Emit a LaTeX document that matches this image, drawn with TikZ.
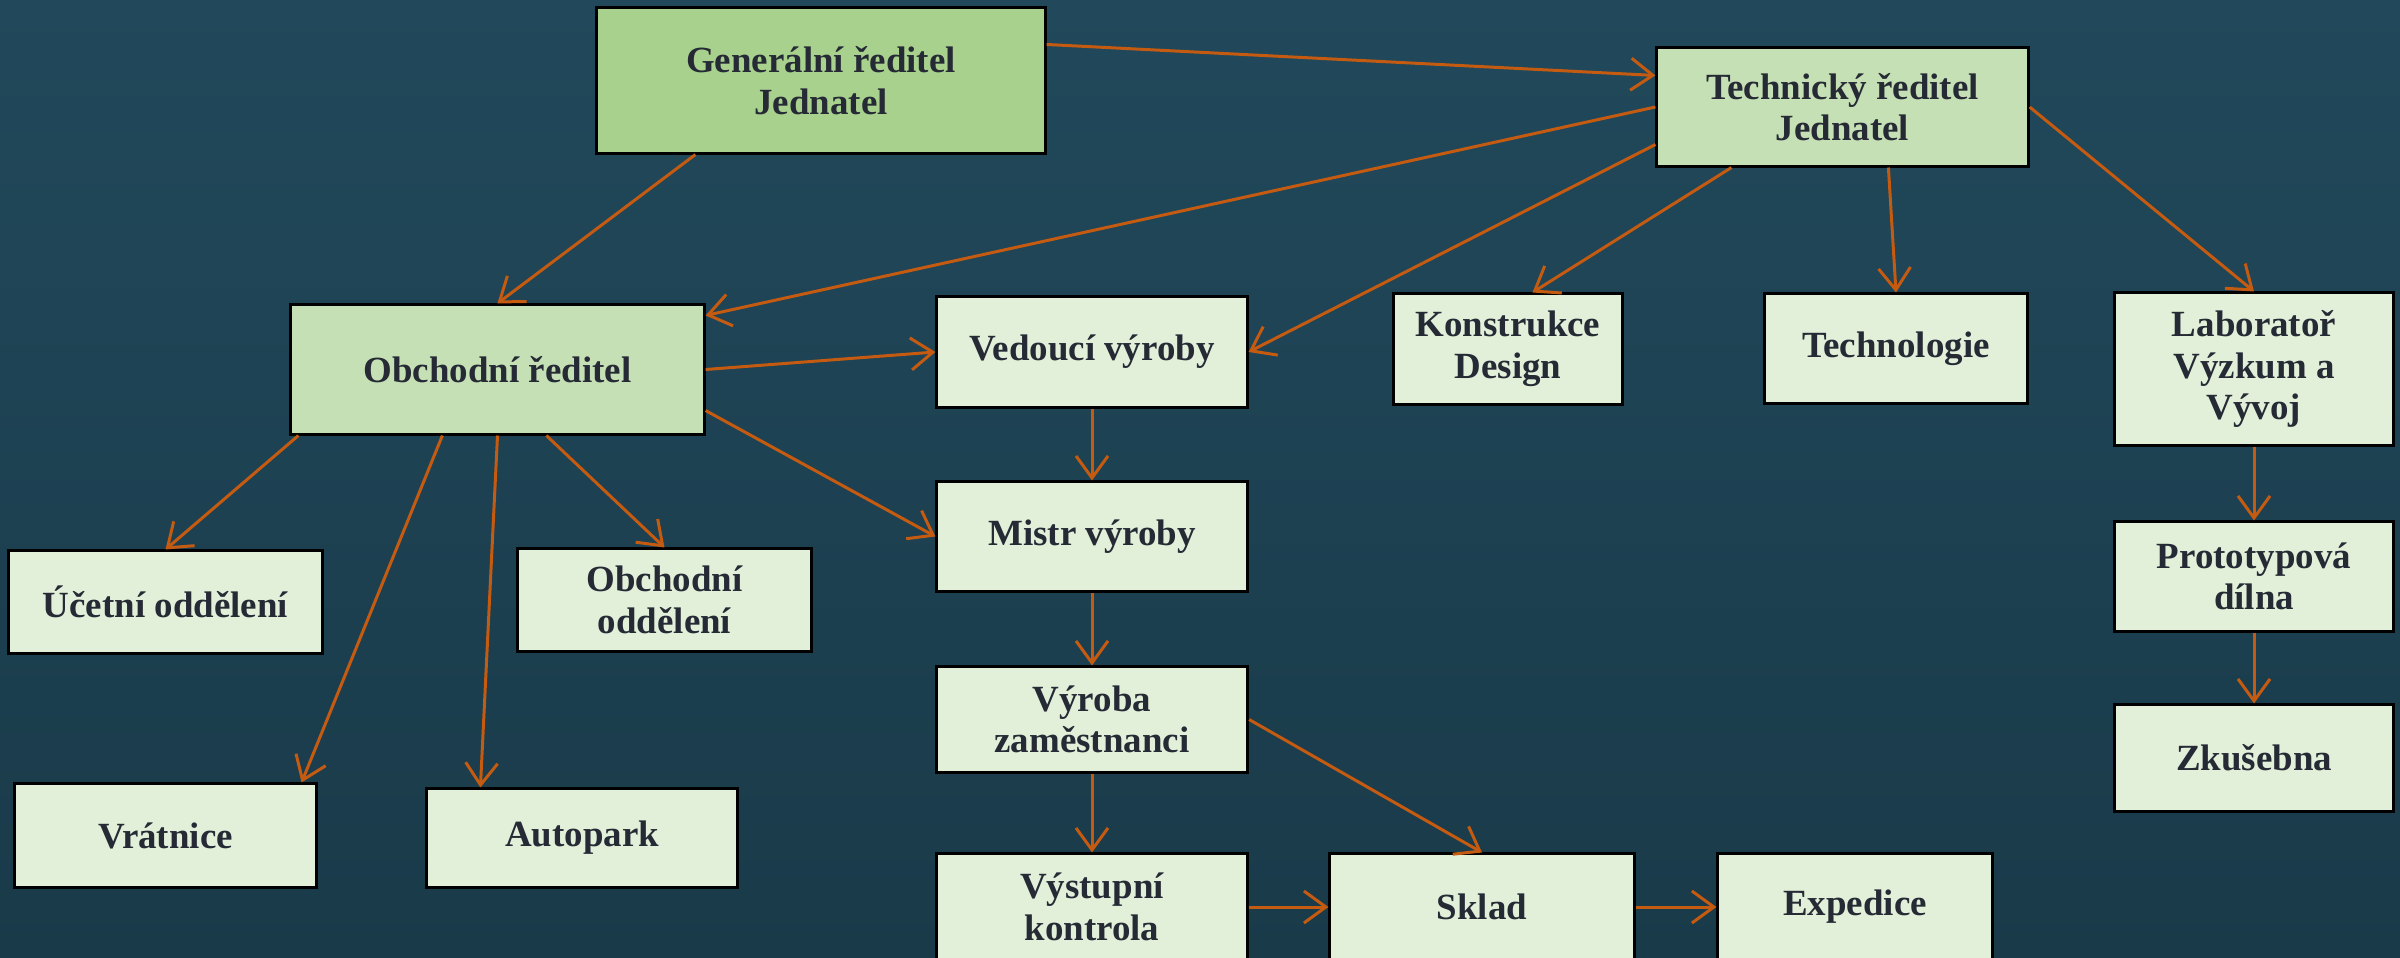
\documentclass[tikz,border=0pt]{standalone}
\usepackage{fontspec}
\setmainfont{Liberation Serif}
\usetikzlibrary{calc,arrows.meta}

\definecolor{bgteal}{HTML}{21495B}
\definecolor{bgdark}{HTML}{14303D}
\definecolor{headgreen}{HTML}{A9D18E}
\definecolor{midgreen}{HTML}{C5E0B4}
\definecolor{palegreen}{HTML}{E2EFD9}
\definecolor{inkgray}{HTML}{252A35}
\definecolor{linkorange}{HTML}{C55A11}

\tikzset{
	unit/.style={draw=black, line width=0.85pt, fill=palegreen, text=inkgray,
		font=\bfseries\fontsize{10.5}{11.8}\selectfont, align=center, inner sep=0pt},
	boss/.style={unit, fill=midgreen},
	link/.style={draw=linkorange, line width=0.85pt, -{Straight Barb[length=2.2mm,width=3.2mm]}},
}

\begin{document}
\begin{tikzpicture}[x=0.01cm, y=-0.01cm]
		%%%%% START %%%%%
		\useasboundingbox (0,0) rectangle (2400,957);
		\clip (0,0) rectangle (2400,957);
		\shade[top color=bgteal, bottom color=bgdark!60!bgteal] (0,0) rectangle (2400,957);
		
		% vedeni
		\node[boss, fill=headgreen, minimum width=4.48cm, minimum height=1.45cm] (gen) at (821,80.5) {Generální ředitel\\Jednatel};
		\node[boss, minimum width=3.71cm, minimum height=1.18cm] (tech) at (1842.5,107) {Technický ředitel\\Jednatel};
		\node[boss, minimum width=4.13cm, minimum height=1.29cm] (obch) at (497.5,369.5) {Obchodní ředitel};
		
		% technicky useky
		\node[unit, minimum width=2.28cm, minimum height=1.10cm] (kons) at (1508,349) {Konstrukce\\Design};
		\node[unit, minimum width=2.62cm, minimum height=1.09cm] (techn) at (1896,348.5) {Technologie};
		\node[unit, minimum width=2.78cm, minimum height=1.52cm] (lab) at (2254,369) {Laboratoř\\Výzkum a\\Vývoj};
		\node[unit, minimum width=2.78cm, minimum height=1.09cm] (proto) at (2254,576.5) {Prototypová\\dílna};
		\node[unit, minimum width=2.78cm, minimum height=1.06cm] (zkus) at (2254,758) {Zkušebna};
		
		% vyroba
		\node[unit, minimum width=3.10cm, minimum height=1.10cm] (ved) at (1092,352) {Vedoucí výroby};
		\node[unit, minimum width=3.10cm, minimum height=1.09cm] (mistr) at (1092,536.5) {Mistr výroby};
		\node[unit, minimum width=3.11cm, minimum height=1.05cm] (vyr) at (1092,719.5) {Výroba\\zaměstnanci};
		\node[unit, minimum width=3.11cm, minimum height=1.06cm] (vyst) at (1092,907) {Výstupní\\kontrola};
		\node[unit, minimum width=3.04cm, minimum height=1.06cm] (sklad) at (1482,907) {Sklad};
		\node[unit, minimum width=2.74cm, minimum height=1.06cm] (exped) at (1855,907) {Expedice};
		
		% obchodni useky
		\node[unit, minimum width=3.13cm, minimum height=1.02cm] (ucet) at (165.5,602) {Účetní oddělení};
		\node[unit, minimum width=2.93cm, minimum height=1.02cm] (obod) at (664.5,600) {Obchodní\\oddělení};
		\node[unit, minimum width=3.01cm, minimum height=1.03cm] (vrat) at (165.5,835.5) {Vrátnice};
		\node[unit, minimum width=3.10cm, minimum height=0.98cm] (auto) at (582,838) {Autopark};
		
		% vazby
		\draw[link] ($(gen.north east)+(0,38)$) -- ($(tech.north west)+(0,29)$);
		\draw[link] (tech.west) -- ($(obch.north east)+(0,12)$);
		\draw[link] ($(gen.south west)+(100,0)$) -- ($(obch.north west)+(208,0)$);
		\draw[link] (obch.east) -- (ved.west);
		\draw[link] ($(tech.south west)+(0,-23)$) -- (ved.east);
		\draw[link] ($(tech.south west)+(76,0)$) -- ($(kons.north west)+(140,0)$);
		\draw[link] ($(tech.south west)+(233,0)$) -- (techn.north);
		\draw[link] (tech.east) -- (lab.north);
		\draw[link] (lab.south) -- (proto.north);
		\draw[link] (proto.south) -- (zkus.north);
		
		\draw[link] ($(obch.south west)+(9,0)$) -- (ucet.north);
		\draw[link] ($(obch.south west)+(153,0)$) -- ($(vrat.north east)+(-16,0)$);
		\draw[link] (obch.south) -- ($(auto.north west)+(55,0)$);
		\draw[link] ($(obch.south west)+(257,0)$) -- (obod.north);
		\draw[link] ($(obch.south east)+(0,-25)$) -- (mistr.west);
		
		\draw[link] (ved.south) -- (mistr.north);
		\draw[link] (mistr.south) -- (vyr.north);
		\draw[link] (vyr.south) -- (vyst.north);
		\draw[link] (vyr.east) -- (sklad.north);
		\draw[link] (vyst.east) -- (sklad.west);
		\draw[link] (sklad.east) -- (exped.west);
		%%%%% END %%%%%
\end{tikzpicture}
\end{document}
